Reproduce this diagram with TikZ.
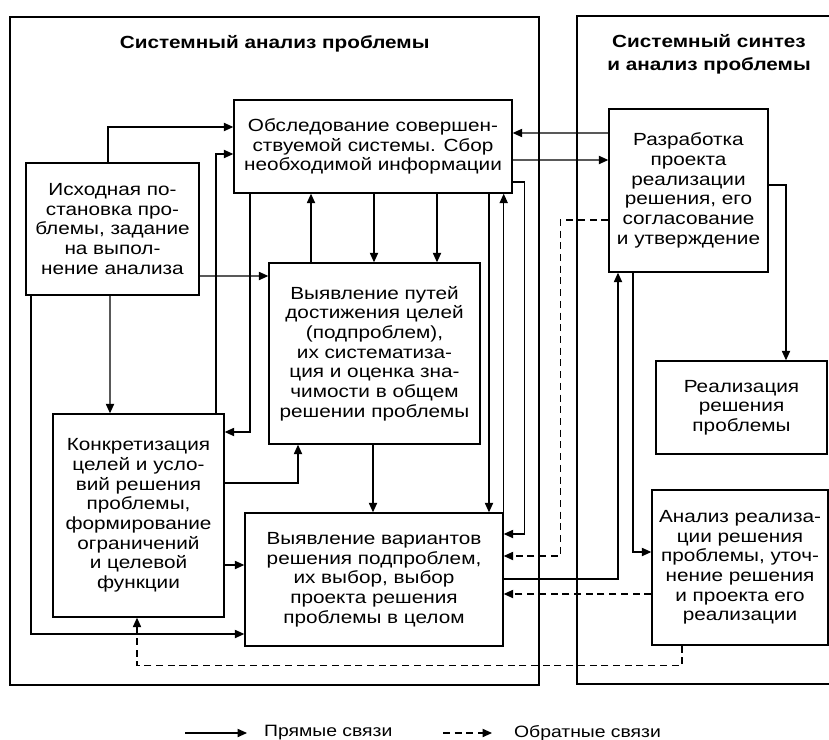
\documentclass[tikz,border=0pt]{standalone}
\usepackage{fontspec}
\setmainfont{Liberation Sans}[FakeStretch=1.18]
\usetikzlibrary{arrows.meta}
\newcommand\blkfont{\fontsize{15}{16.8}\selectfont}
\newcommand\ttlfont{\fontsize{15}{19}\selectfont\bfseries}
\newcommand\lgdfont{\fontsize{14}{16}\selectfont}

\begin{document}
\begin{tikzpicture}[
  font=\blkfont,
  blk/.style={draw,line width=1.2pt,align=center,inner sep=2pt},
  ttl/.style={font=\ttlfont,align=center},
  frm/.style={line width=1.2pt},
  arr/.style={-{Triangle[length=8pt,width=7pt]},line width=1pt},
  darr/.style={-{Triangle[length=8pt,width=7pt]},line width=1pt,dash pattern=on 6pt off 4pt}]
\useasboundingbox (0,0) rectangle (24.87,-22.2);
% frames
\draw[frm] (0.3,-0.51) rectangle (16.17,-20.55);
\draw[frm] (24.87,-0.48) -- (17.31,-0.48) -- (17.31,-20.52) -- (24.87,-20.52);
\node[ttl] (tleft) at (8.24,-1.32) {Системный анализ проблемы};
\node[ttl] (tright) at (21.27,-1.63) {Системный синтез\\ и анализ проблемы};
% blocks
\node[blk,minimum width=8.34cm,minimum height=2.79cm] (obsl) at (11.19,-4.395) {Обследование совершен-\\ ствуемой системы. Сбор\\ необходимой информации};
\node[blk,minimum width=5.19cm,minimum height=3.96cm] (iskh) at (3.375,-6.87) {Исходная по-\\ становка про-\\ блемы, задание\\ на выпол-\\ нение анализа};
\node[blk,minimum width=6.33cm,minimum height=5.43cm] (puti) at (11.235,-10.605) {Выявление путей\\ достижения целей\\ (подпроблем),\\ их систематиза-\\ ция и оценка зна-\\ чимости в общем\\ решении проблемы};
\node[blk,minimum width=5.13cm,minimum height=6.09cm] (konkr) at (4.155,-15.465) {Конкретизация\\ целей и усло-\\ вий решения\\ проблемы,\\ формирование\\ ограничений\\ и целевой\\ функции};
\node[blk,minimum width=7.74cm,minimum height=3.99cm] (var) at (11.22,-17.385) {Выявление вариантов\\ решения подпроблем,\\ их выбор, выбор\\ проекта решения\\ проблемы в целом};
\node[blk,minimum width=4.77cm,minimum height=4.89cm] (razr) at (20.655,-5.715) {Разработка\\ проекта\\ реализации\\ решения, его\\ согласование\\ и утверждение};
\node[blk,minimum width=5.13cm,minimum height=2.79cm] (real) at (22.245,-12.225) {Реализация\\ решения\\ проблемы};
\node[blk,minimum width=5.28cm,minimum height=4.65cm] (anal) at (22.2,-17.025) {Анализ реализа-\\ ции решения\\ проблемы, уточ-\\ нение решения\\ и проекта его\\ реализации};
% left part
\draw[arr] ([xshift=-0.135cm]iskh.north) |- ([yshift=0.585cm]obsl.west);
\draw[arr] ([xshift=2.325cm]konkr.north) |- ([yshift=-0.225cm]obsl.west);
\draw[arr] ([xshift=-3.69cm]obsl.south) |- ([yshift=2.505cm]konkr.east);
\draw[arr] ([yshift=-1.41cm]iskh.east) -- ([yshift=2.325cm]puti.west);
\draw[arr] ([xshift=-0.075cm]iskh.south) -- ([xshift=-0.855cm]konkr.north);
\draw[arr] ([xshift=-2.445cm]iskh.south) |- ([yshift=-1.635cm]var.west);
\draw[arr] ([yshift=-1.485cm]konkr.east) -- ([yshift=0.435cm]var.west);
\draw[arr] ([yshift=0.975cm]konkr.east) -| ([xshift=-2.295cm]puti.south);
% middle column
\draw[arr] ([xshift=-1.905cm]puti.north) -- ([xshift=-1.86cm]obsl.south);
\draw[arr] ([xshift=0.03cm]obsl.south) -- ([xshift=-0.015cm]puti.north);
\draw[arr] ([xshift=1.92cm]obsl.south) -- ([xshift=1.875cm]puti.north);
\draw[arr] ([xshift=-0.045cm]puti.south) -- ([xshift=-0.03cm]var.north);
\draw[arr] ([xshift=3.48cm]obsl.south) -- ([xshift=3.45cm]var.north);
\draw[arr] (var.north east) -- (var.north east |- obsl.south);
\draw[arr] ([yshift=-1.065cm]obsl.east) -- ++(0.36,0) |- ([yshift=1.365cm]var.east);
% right part
\draw[arr] ([yshift=1.725cm]razr.west) -- ([yshift=0.405cm]obsl.east);
\draw[arr] ([yshift=-0.405cm]obsl.east) -- ([yshift=0.915cm]razr.west);
\draw[arr] ([yshift=0.165cm]razr.east) -| ([xshift=1.335cm]real.north);
\draw[arr] ([xshift=-1.665cm]razr.south) |- ([yshift=0.465cm]anal.west);
\draw[arr] ([yshift=0.015cm]var.east) -| ([xshift=-2.115cm]razr.south);
% feedback
\draw[darr] ([yshift=-0.885cm]razr.west) -- ++(-1.44,0) |- ([yshift=0.705cm]var.east);
\draw[darr] ([yshift=-0.795cm]anal.west) -- ([yshift=-0.435cm]var.east);
\draw[darr] ([xshift=-1.74cm]anal.south) -- ++(0,-0.6) -| ([xshift=-0.045cm]konkr.south);
% legend
\coordinate (la) at (5.55,-21.99);
\coordinate (lb) at (7.41,-21.99);
\draw[arr] (la) -- (lb);
\node[anchor=west,font=\lgdfont] (lat) at (7.8,-21.99) {Прямые связи};
\coordinate (lc) at (13.29,-21.99);
\coordinate (ld) at (14.76,-21.99);
\draw[darr] (lc) -- (ld);
\node[anchor=west,font=\lgdfont] (lct) at (15.3,-21.99) {Обратные связи};
\end{tikzpicture}
\end{document}
